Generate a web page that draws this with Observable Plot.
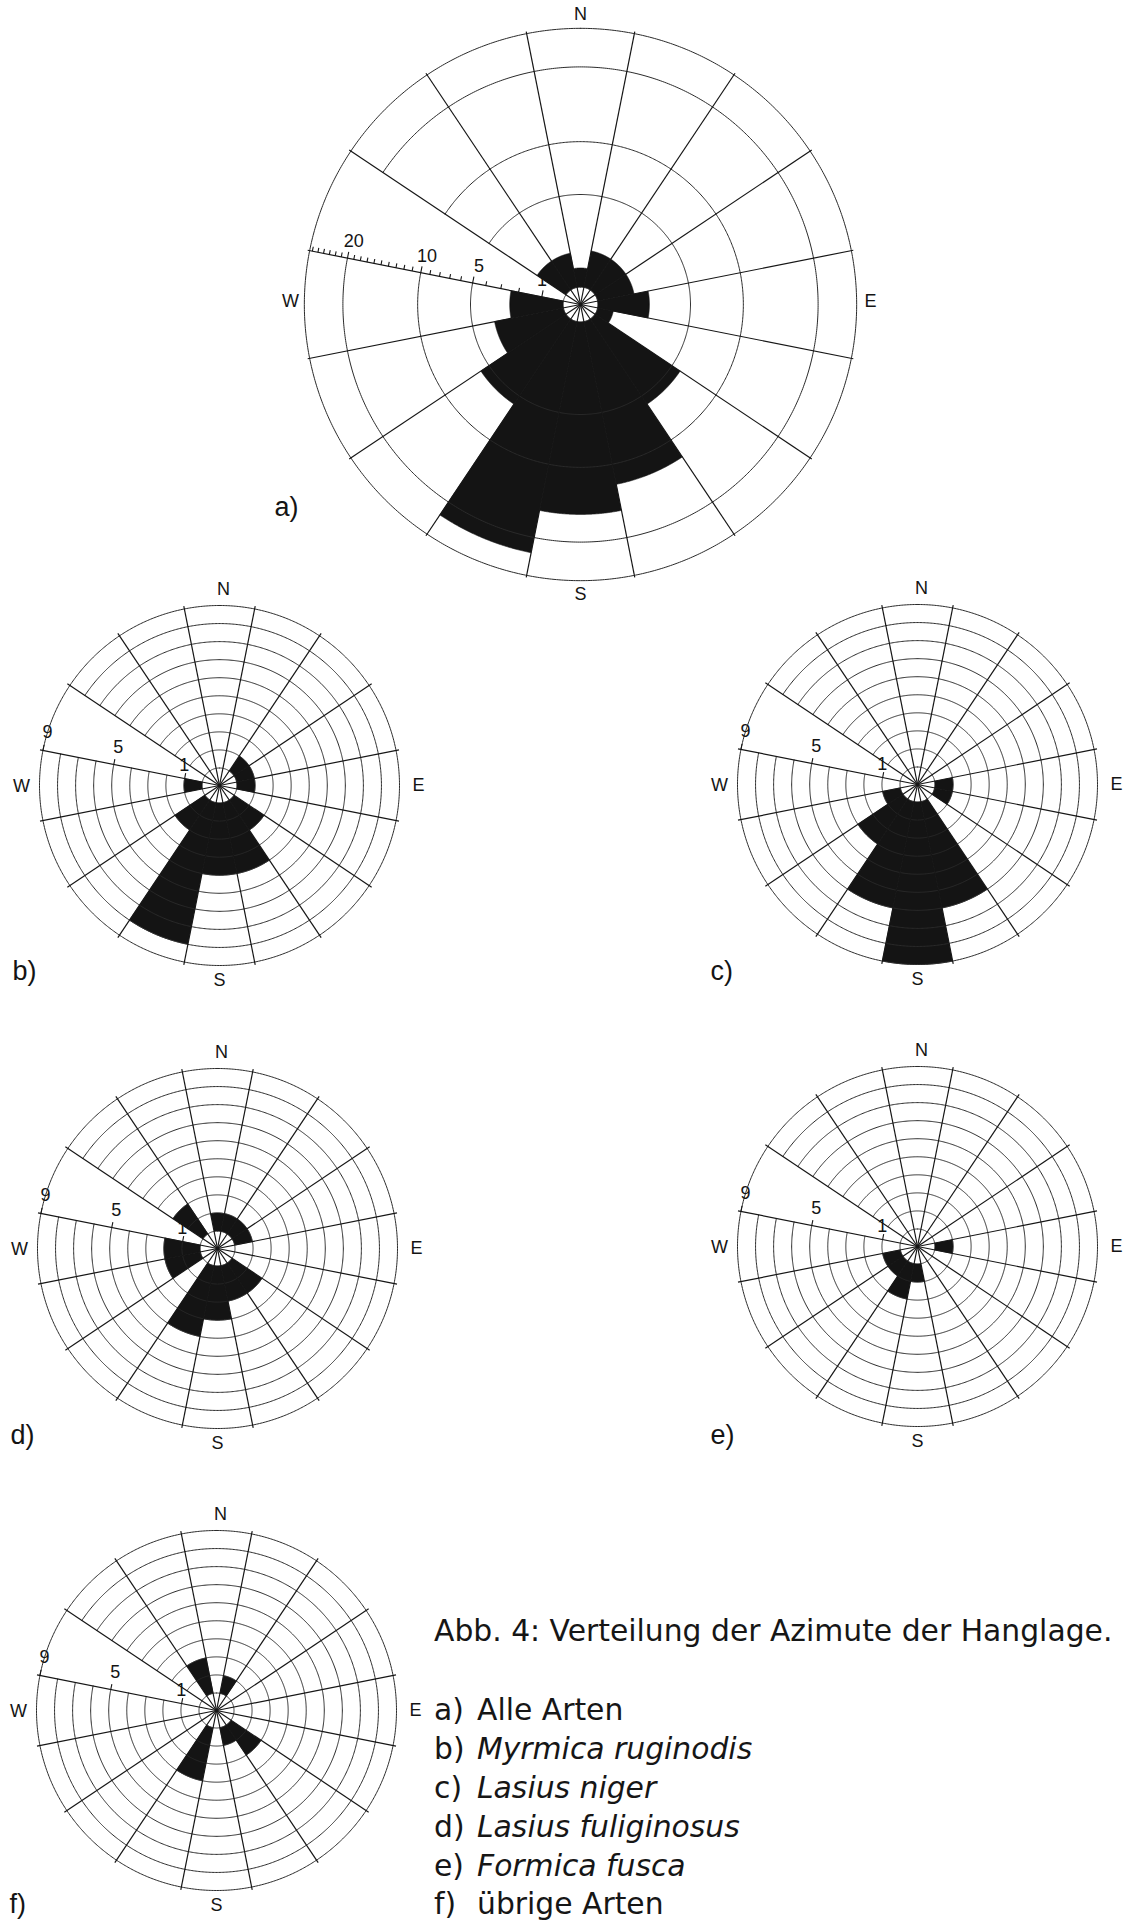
<!DOCTYPE html>
<html>
<head>
<meta charset="utf-8">
<script src="https://cdn.jsdelivr.net/npm/d3@7"></script>
<script src="https://cdn.jsdelivr.net/npm/@observablehq/plot@0.6"></script>
<style>
  body { margin: 0; background: #fff; }
  #wrap { position: relative; width: 1128px; height: 1932px; overflow: hidden;
          font-family: "Liberation Sans", Arial, sans-serif; color: #141414; }
  #chart { position: absolute; left: 0; top: 0; }
  #caption { position: absolute; left: 434px; top: 1612px; font-family: "DejaVu Sans", "Liberation Sans", sans-serif;
             font-size: 29.8px; line-height: 38.8px; color: #161616; }
  #caption .line { white-space: nowrap; }
  #caption .gap { height: 40.7px; }
  #caption .key { display: inline-block; width: 43px; }
</style>
</head>
<body>
<div id="wrap">
  <div id="chart"></div>
  <div id="caption"></div>
</div>
<script>
// ---------------- data ----------------
const directions = ["N","NNE","NE","ENE","E","ESE","SE","SSE","S","SSW","SW","WSW","W","WNW","NW","NNW"];

// a) Alle Arten (square-root radial scale)
const alleArten        = [0.9, 1.6, 1.6, 1.6, 2.3, 0.8, 5.8, 12.4, 15.9, 22.5, 5.8, 3.4, 2.4, 0, 1.5, 1.5];
// b) - f) counts (linear radial scale 0..9)
const myrmicaRuginodis = [0, 0, 1, 1, 1, 0, 2, 4, 4, 8, 2, 0, 1, 0, 0, 0];
const lasiusNiger      = [0, 0, 0, 0, 1, 1, 0, 6, 9, 6, 3, 1, 0, 0, 0, 0];
const lasiusFuliginosus= [1, 1, 1, 1, 0, 0, 2, 2, 3, 4, 0, 2, 2, 0, 2, 0];
const formicaFusca     = [0, 0, 0, 0, 1, 0, 0, 0, 1, 2, 1, 1, 0, 0, 0, 0];
const uebrigeArten     = [0, 1, 0, 0, 0, 0, 2, 1, 0, 3, 0, 0, 0, 0, 0, 2];

const compassLetters = ["N", "E", "S", "W"];
const ringsAll = [5, 10, 20];
const outerAll = 26.5;
const ticksAll = [1,2,3,4,5,6,7,8,9,10,11,12,13,14,15,16,17,18,19,20,21,22,23,24,25,26];
const tickLabelsAll = [1, 5, 10, 20];
const ringsSpecies = [1, 2, 3, 4, 5, 6, 7, 8];
const outerSpecies = 9;
const ticksSpecies = [1, 5, 9];
const tickLabelsSpecies = [1, 5, 9];
const panelLabels = ["a)", "b)", "c)", "d)", "e)", "f)"];

const captionTitle = "Abb. 4: Verteilung der Azimute der Hanglage.";
const captionKeys = ["a)", "b)", "c)", "d)", "e)", "f)"];
const captionNames = ["Alle Arten", "Myrmica ruginodis", "Lasius niger", "Lasius fuliginosus", "Formica fusca", "übrige Arten"];
const captionItalic = [false, true, true, true, true, false];

// ---------------- layout ----------------
const scaleAll = Plot.scale({x: {type: "sqrt", domain: [5, 20], range: [110, 237.6]}});
const scaleSpecies = () => Plot.scale({x: {type: "linear", domain: [0, 9], range: [17.5, 180]}});

const panels = [
  {label: panelLabels[0], values: alleArten, cx: 580, cy: 304, r0: 17.5, scale: scaleAll,
   rings: ringsAll, outer: outerAll, ticks: ticksAll, tickLabels: tickLabelsAll, big: true, labelDy: 203},
  {label: panelLabels[1], values: myrmicaRuginodis, cx: 219, cy: 785, r0: 17.5, scale: scaleSpecies(),
   rings: ringsSpecies, outer: outerSpecies, ticks: ticksSpecies, tickLabels: tickLabelsSpecies, labelDy: 186},
  {label: panelLabels[2], values: lasiusNiger, cx: 917, cy: 784, r0: 17.5, scale: scaleSpecies(),
   rings: ringsSpecies, outer: outerSpecies, ticks: ticksSpecies, tickLabels: tickLabelsSpecies, labelDy: 187},
  {label: panelLabels[3], values: lasiusFuliginosus, cx: 217, cy: 1248, r0: 17.5, scale: scaleSpecies(),
   rings: ringsSpecies, outer: outerSpecies, ticks: ticksSpecies, tickLabels: tickLabelsSpecies, labelDy: 187},
  {label: panelLabels[4], values: formicaFusca, cx: 917, cy: 1246, r0: 17.5, scale: scaleSpecies(),
   rings: ringsSpecies, outer: outerSpecies, ticks: ticksSpecies, tickLabels: tickLabelsSpecies, labelDy: 189},
  {label: panelLabels[5], values: uebrigeArten, cx: 216, cy: 1710, r0: 17.5, scale: scaleSpecies(),
   rings: ringsSpecies, outer: outerSpecies, ticks: ticksSpecies, tickLabels: tickLabelsSpecies, labelDy: 194}
];

const SECTOR = 360 / directions.length;           // 22.5°
const blankIndex = directions.indexOf("WNW");       // sector kept free for the scale
const blankFrom = blankIndex * SECTOR - SECTOR / 2;  // 281.25°
const blankTo = blankIndex * SECTOR + SECTOR / 2;    // 303.75°
const rad = (d) => d * Math.PI / 180;
const P = (p, r, deg) => ({x: p.cx + r * Math.sin(rad(deg)), y: p.cy - r * Math.cos(rad(deg))});

const barPts = [], ringPts = [], spokes = [], tickSegs = [], tickTexts = [], letters = [], labels = [];

panels.forEach((p, pi) => {
  const R = p.scale.apply(p.outer);
  // bars
  p.values.forEach((v, i) => {
    if (!v) return;
    const a1 = i * SECTOR - SECTOR / 2, a2 = i * SECTOR + SECTOR / 2;
    const rv = p.scale.apply(v);
    const id = pi + "-" + i;
    for (let a = a1; a <= a2 + 1e-9; a += 0.25) barPts.push({id, ...P(p, p.r0, a)});
    for (let a = a2; a >= a1 - 1e-9; a -= 0.25) barPts.push({id, ...P(p, rv, a)});
  });
  // rings (interrupted in the scale sector)
  p.rings.forEach((v) => {
    const r = p.scale.apply(v);
    for (let a = blankTo; a <= blankFrom + 360 + 1e-9; a += 0.5) ringPts.push({id: pi + "r" + v, ...P(p, r, a)});
  });
  for (let a = 0; a <= 360; a += 0.5) ringPts.push({id: pi + "outer", ...P(p, R, a)});
  for (let a = 0; a <= 360; a += 1) ringPts.push({id: pi + "hole", ...P(p, p.r0, a)});
  // spokes
  const ext = p.big ? 2 : 3;
  for (let k = 0; k < directions.length; k++) {
    const a = SECTOR / 2 + k * SECTOR;
    const e = P(p, R + ext, a);
    spokes.push({x1: p.cx, y1: p.cy, x2: e.x, y2: e.y});
  }
  // scale ticks on the spoke at blankFrom, pointing into the blank sector
  const perp = {x: Math.cos(rad(blankFrom)), y: Math.sin(rad(blankFrom))};
  p.ticks.forEach((v) => {
    const q = P(p, p.scale.apply(v), blankFrom);
    const major = p.tickLabels.includes(v);
    const len = p.big ? (major ? 6.5 : 4.5) : 5.5;
    tickSegs.push({x1: q.x, y1: q.y, x2: q.x + perp.x * len, y2: q.y + perp.y * len});
  });
  p.tickLabels.forEach((v) => {
    const q = P(p, p.scale.apply(v), blankFrom);
    const off = p.big ? 17 : (v === 1 ? 14 : 18);
    const shift = v === 1 ? 3 : (p.big ? -3 : -1);
    tickTexts.push({x: q.x + perp.x * off - shift, y: q.y + perp.y * off, text: String(v)});
  });
  // compass letters
  compassLetters.forEach((t, j) => {
    const d = p.big ? 290 : [196, 199, 195, 198][j];
    const pos = P(p, d, j * 90);
    const dy = p.big ? (j % 2 ? -3 : 0) : (j === 3 ? 1 : 0);
    const dx = (!p.big && j === 0) ? 4 : 0;
    letters.push({x: pos.x + dx, y: pos.y + dy, text: t});
  });
  // panel label
  if (p.big) labels.push({x: p.cx - 294, y: p.cy + p.labelDy, text: p.label, anchor: "middle"});
  else labels.push({x: p.cx - 207, y: p.cy + p.labelDy, text: p.label, anchor: "start"});
});

const svg = Plot.plot({
  width: 1128, height: 1932, margin: 0,
  x: {domain: [0, 1128], range: [0, 1128], axis: null},
  y: {domain: [0, 1932], range: [0, 1932], axis: null},
  style: {fontFamily: '"Liberation Sans", Arial, sans-serif', color: "#141414", background: "#fff"},
  marks: [
    Plot.line(barPts, {x: "x", y: "y", z: "id", fill: "#141414", stroke: "#141414", strokeWidth: 0.6, curve: "linear"}),
    Plot.line(ringPts, {x: "x", y: "y", z: "id", stroke: "#2a2a2a", strokeWidth: 1, curve: "linear"}),
    Plot.link(spokes, {x1: "x1", y1: "y1", x2: "x2", y2: "y2", stroke: "#161616", strokeWidth: 1.2}),
    Plot.link(tickSegs, {x1: "x1", y1: "y1", x2: "x2", y2: "y2", stroke: "#161616", strokeWidth: 1.1}),
    Plot.text(tickTexts, {x: "x", y: "y", text: "text", fontSize: 18}),
    Plot.text(letters, {x: "x", y: "y", text: "text", fontSize: 18}),
    Plot.text(labels.filter(d => d.anchor === "middle"), {x: "x", y: "y", text: "text", fontSize: 27, textAnchor: "middle"}),
    Plot.text(labels.filter(d => d.anchor === "start"), {x: "x", y: "y", text: "text", fontSize: 27, textAnchor: "start"})
  ]
});
document.getElementById("chart").appendChild(svg);

// caption
const cap = document.getElementById("caption");
const t = document.createElement("div");
t.className = "line"; t.textContent = captionTitle; cap.appendChild(t);
const g = document.createElement("div"); g.className = "gap"; cap.appendChild(g);
captionKeys.forEach((k, i) => {
  const row = document.createElement("div"); row.className = "line";
  const ks = document.createElement("span"); ks.className = "key"; ks.textContent = k;
  const ns = document.createElement("span"); ns.textContent = captionNames[i];
  if (captionItalic[i]) ns.style.fontStyle = "italic";
  row.appendChild(ks); row.appendChild(ns); cap.appendChild(row);
});
</script>
</body>
</html>
